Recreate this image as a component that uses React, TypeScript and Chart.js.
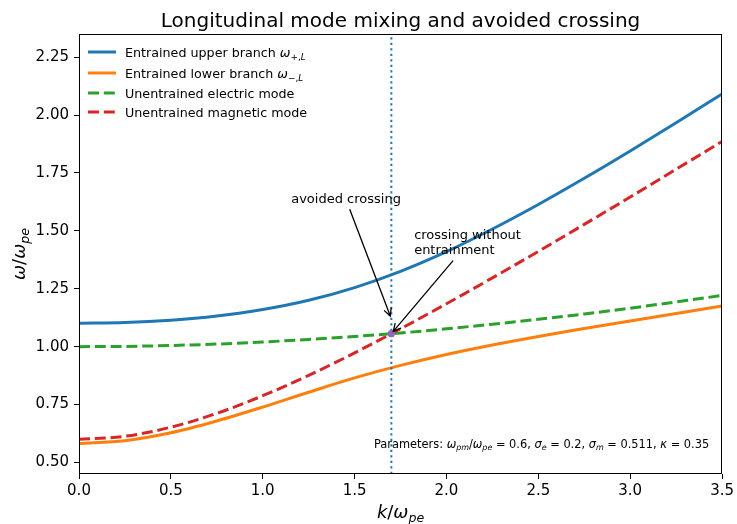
import React, { useEffect, useRef } from "react";
import { Chart, registerables } from "chart.js";

Chart.register(...registerables);

// ---- data ----
const kValues = [0, 0.25, 0.5, 0.75, 1.0, 1.25, 1.5, 1.75, 2.0, 2.25, 2.5, 2.75, 3.0, 3.25, 3.5];
const upperBranch = [1.101, 1.104, 1.114, 1.132, 1.160, 1.200, 1.255, 1.325, 1.410, 1.508, 1.614, 1.727, 1.845, 1.967, 2.091];
const lowerBranch = [0.582, 0.594, 0.628, 0.679, 0.739, 0.803, 0.865, 0.919, 0.966, 1.007, 1.044, 1.078, 1.111, 1.143, 1.176];
const electricMode = [1.000, 1.001, 1.005, 1.011, 1.020, 1.031, 1.044, 1.059, 1.077, 1.097, 1.118, 1.141, 1.166, 1.193, 1.221];
const magneticMode = [0.600, 0.613, 0.652, 0.712, 0.788, 0.876, 0.973, 1.077, 1.185, 1.297, 1.411, 1.528, 1.646, 1.766, 1.886];
const kCross = 1.70;
const omegaCross = 1.056;
const avoidedTarget = [1.70, 1.12];
const xTicks = [0, 0.5, 1.0, 1.5, 2.0, 2.5, 3.0, 3.5];
const yTicks = [0.5, 0.75, 1.0, 1.25, 1.5, 1.75, 2.0, 2.25];
const xRange = [0, 3.5];
const yRange = [0.45, 2.35];

const FONT = "'DejaVu Sans', 'Noto Sans', sans-serif";
const C0 = "#1f77b4";
const C1 = "#ff7f0e";
const C2 = "#2ca02c";
const C3 = "#d62728";
const C4 = "#9467bd";

type Seg = { t: string; i?: boolean; s?: boolean };

function segFont(seg: Seg, size: number) {
  const sz = seg.s ? size * 0.7 : size;
  return `${seg.i ? "italic " : ""}${sz}px ${FONT}`;
}
function measureRich(ctx: CanvasRenderingContext2D, segs: Seg[], size: number) {
  let w = 0;
  for (const sg of segs) {
    ctx.font = segFont(sg, size);
    w += ctx.measureText(sg.t).width;
  }
  return w;
}
function drawRich(ctx: CanvasRenderingContext2D, segs: Seg[], x: number, y: number, size: number, align: string) {
  const w = measureRich(ctx, segs, size);
  let cx = align === "center" ? x - w / 2 : align === "right" ? x - w : x;
  ctx.textAlign = "left";
  ctx.textBaseline = "alphabetic";
  for (const sg of segs) {
    ctx.font = segFont(sg, size);
    ctx.fillText(sg.t, cx, y + (sg.s ? size * 0.24 : 0));
    cx += ctx.measureText(sg.t).width;
  }
  return w;
}
function drawArrow(ctx: CanvasRenderingContext2D, x0: number, y0: number, x1: number, y1: number) {
  const ang = Math.atan2(y1 - y0, x1 - x0);
  const hl = 7.5;
  const hw = 3.8;
  ctx.save();
  ctx.strokeStyle = "#000";
  ctx.lineWidth = 1.3;
  ctx.beginPath();
  ctx.moveTo(x0, y0);
  ctx.lineTo(x1, y1);
  const bx = x1 - hl * Math.cos(ang);
  const by = y1 - hl * Math.sin(ang);
  const px = -Math.sin(ang) * hw;
  const py = Math.cos(ang) * hw;
  ctx.moveTo(bx + px, by + py);
  ctx.lineTo(x1, y1);
  ctx.lineTo(bx - px, by - py);
  ctx.stroke();
  ctx.restore();
}
function annotate(
  ctx: CanvasRenderingContext2D,
  lines: string[],
  tx: number,
  ty: number,
  target: number[],
  size: number,
  lh: number
) {
  ctx.fillStyle = "#000";
  ctx.font = `${size}px ${FONT}`;
  ctx.textAlign = "left";
  ctx.textBaseline = "alphabetic";
  let w = 0;
  const n = lines.length;
  lines.forEach((ln, i) => {
    const by = ty - (n - 1 - i) * lh;
    ctx.fillText(ln, tx, by);
    w = Math.max(w, ctx.measureText(ln).width);
  });
  const top = ty - (n - 1) * lh - size * 0.78;
  const bottom = ty + size * 0.24;
  const cx = tx + w / 2;
  const cy = (top + bottom) / 2;
  const hwid = w / 2 + 3;
  const hh = (bottom - top) / 2 + 3;
  const dx = target[0] - cx;
  const dy = target[1] - cy;
  const s = Math.min(Math.abs(dx) > 1e-6 ? hwid / Math.abs(dx) : 1e9, Math.abs(dy) > 1e-6 ? hh / Math.abs(dy) : 1e9);
  const sx = cx + dx * s;
  const sy = cy + dy * s;
  const len = Math.hypot(target[0] - sx, target[1] - sy);
  const ex = target[0] - ((target[0] - sx) / len) * 3;
  const ey = target[1] - ((target[1] - sy) / len) * 3;
  drawArrow(ctx, sx, sy, ex, ey);
}

const legendItems = [
  { color: C0, dash: [] as number[], segs: [{ t: "Entrained upper branch " }, { t: "ω", i: true }, { t: "+,", s: true }, { t: "L", i: true, s: true }] as Seg[] },
  { color: C1, dash: [] as number[], segs: [{ t: "Entrained lower branch " }, { t: "ω", i: true }, { t: "−,", s: true }, { t: "L", i: true, s: true }] as Seg[] },
  { color: C2, dash: [11, 4.8], segs: [{ t: "Unentrained electric mode" }] as Seg[] },
  { color: C3, dash: [11, 4.8], segs: [{ t: "Unentrained magnetic mode" }] as Seg[] },
];
const legendRowsY = [52, 73, 93, 112];

export default function App() {
  const ref = useRef<HTMLCanvasElement>(null);

  useEffect(() => {
    document.body.style.margin = "0";
    const canvas = ref.current as HTMLCanvasElement;
    const toPts = (ys: number[]) => kValues.map((k, i) => ({ x: k, y: ys[i] }));

    const overlay = {
      id: "overlay",
      afterDraw(chart: any) {
        const ctx: CanvasRenderingContext2D = chart.ctx;
        const a = chart.chartArea;
        const xs = chart.scales.x;
        const ys = chart.scales.y;
        ctx.save();
        // frame
        ctx.strokeStyle = "#000";
        ctx.lineWidth = 1;
        ctx.strokeRect(Math.round(a.left) + 0.5, Math.round(a.top) + 0.5, Math.round(a.right - a.left) - 1, Math.round(a.bottom - a.top) - 1);
        ctx.fillStyle = "#000";
        // title
        ctx.font = `20px ${FONT}`;
        ctx.textAlign = "center";
        ctx.textBaseline = "alphabetic";
        ctx.fillText("Longitudinal mode mixing and avoided crossing", (a.left + a.right) / 2, 27);
        // axis labels
        drawRich(ctx, [{ t: "k", i: true }, { t: "/" }, { t: "ω", i: true }, { t: "pe", i: true, s: true }], (a.left + a.right) / 2, 518, 18, "center");
        ctx.save();
        ctx.translate(25, (a.top + a.bottom) / 2);
        ctx.rotate(-Math.PI / 2);
        drawRich(ctx, [{ t: "ω", i: true }, { t: "/" }, { t: "ω", i: true }, { t: "pe", i: true, s: true }], 0, 0, 18, "center");
        ctx.restore();
        // legend
        legendItems.forEach((it, i) => {
          const y = legendRowsY[i];
          ctx.save();
          ctx.strokeStyle = it.color;
          ctx.lineWidth = 3;
          ctx.setLineDash(it.dash);
          ctx.beginPath();
          ctx.moveTo(88, y);
          ctx.lineTo(116, y);
          ctx.stroke();
          ctx.restore();
          ctx.fillStyle = "#000";
          drawRich(ctx, it.segs, 125, y + 4.7, 12.7, "left");
        });
        // annotations
        annotate(
          ctx,
          ["avoided crossing"],
          xs.getPixelForValue(1.155),
          ys.getPixelForValue(1.62),
          [xs.getPixelForValue(avoidedTarget[0]), ys.getPixelForValue(avoidedTarget[1])],
          13,
          15
        );
        annotate(
          ctx,
          ["crossing without", "entrainment"],
          xs.getPixelForValue(1.824),
          ys.getPixelForValue(1.398),
          [xs.getPixelForValue(kCross), ys.getPixelForValue(omegaCross)],
          13,
          15
        );
        // parameters
        ctx.fillStyle = "#000";
        drawRich(
          ctx,
          [
            { t: "Parameters: " },
            { t: "ω", i: true },
            { t: "pm", i: true, s: true },
            { t: "/" },
            { t: "ω", i: true },
            { t: "pe", i: true, s: true },
            { t: " = 0.6, " },
            { t: "σ", i: true },
            { t: "e", i: true, s: true },
            { t: " = 0.2, " },
            { t: "σ", i: true },
            { t: "m", i: true, s: true },
            { t: " = 0.511, " },
            { t: "κ", i: true },
            { t: " = 0.35" },
          ],
          a.left + 0.98 * (a.right - a.left),
          447.5,
          11.4,
          "right"
        );
        ctx.restore();
      },
    };

    const tickFont = { family: FONT, size: 15 };
    const chart = new Chart(canvas, {
      type: "line",
      data: {
        datasets: [
          {
            label: "upper",
            data: toPts(upperBranch),
            borderColor: C0,
            borderWidth: 3,
            pointRadius: 0,
            cubicInterpolationMode: "monotone",
            order: 6,
          },
          {
            label: "lower",
            data: toPts(lowerBranch),
            borderColor: C1,
            borderWidth: 3,
            pointRadius: 0,
            cubicInterpolationMode: "monotone",
            order: 5,
          },
          {
            label: "electric",
            data: toPts(electricMode),
            borderColor: C2,
            borderWidth: 3,
            borderDash: [11, 4.8],
            pointRadius: 0,
            cubicInterpolationMode: "monotone",
            order: 4,
          },
          {
            label: "magnetic",
            data: toPts(magneticMode),
            borderColor: C3,
            borderWidth: 3,
            borderDash: [11, 4.8],
            pointRadius: 0,
            cubicInterpolationMode: "monotone",
            order: 3,
          },
          {
            label: "vline",
            data: [
              { x: kCross, y: yRange[0] },
              { x: kCross, y: yRange[1] },
            ],
            borderColor: C0,
            borderWidth: 2,
            borderDash: [2.2, 3.3],
            pointRadius: 0,
            order: 2,
          },
          {
            type: "scatter",
            label: "cross",
            data: [{ x: kCross, y: omegaCross }],
            backgroundColor: C4,
            borderColor: C4,
            pointRadius: 3.6,
            borderWidth: 0,
            order: 1,
          } as any,
        ],
      },
      options: {
        responsive: false,
        animation: false,
        devicePixelRatio: 1,
        layout: { padding: { left: 0, right: 14.5, top: 34, bottom: 0 } },
        plugins: {
          legend: { display: false },
          title: { display: false },
          tooltip: { enabled: false },
        },
        scales: {
          x: {
            type: "linear",
            min: xRange[0],
            max: xRange[1],
            afterBuildTicks: (s: any) => {
              s.ticks = xTicks.map((v) => ({ value: v }));
            },
            afterFit: (s: any) => {
              s.height = 50;
            },
            ticks: {
              font: tickFont,
              color: "#000",
              padding: 3,
              maxRotation: 0,
              autoSkip: false,
              callback: (v: any) => Number(v).toFixed(1),
            },
            grid: { drawOnChartArea: false, drawTicks: true, tickLength: 5, tickColor: "#000", tickWidth: 1 },
            border: { display: false },
          },
          y: {
            type: "linear",
            min: yRange[0],
            max: yRange[1],
            afterBuildTicks: (s: any) => {
              s.ticks = yTicks.map((v) => ({ value: v }));
            },
            afterFit: (s: any) => {
              s.width = 79;
            },
            ticks: {
              font: tickFont,
              color: "#000",
              padding: 5,
              autoSkip: false,
              callback: (v: any) => Number(v).toFixed(2),
            },
            grid: { drawOnChartArea: false, drawTicks: true, tickLength: 5, tickColor: "#000", tickWidth: 1 },
            border: { display: false },
          },
        },
      } as any,
      plugins: [overlay],
    });
    return () => chart.destroy();
  }, []);

  return (
    <div style={{ width: 737, height: 524, background: "#fff" }}>
      <canvas ref={ref} width={737} height={524} style={{ display: "block" }} />
    </div>
  );
}
